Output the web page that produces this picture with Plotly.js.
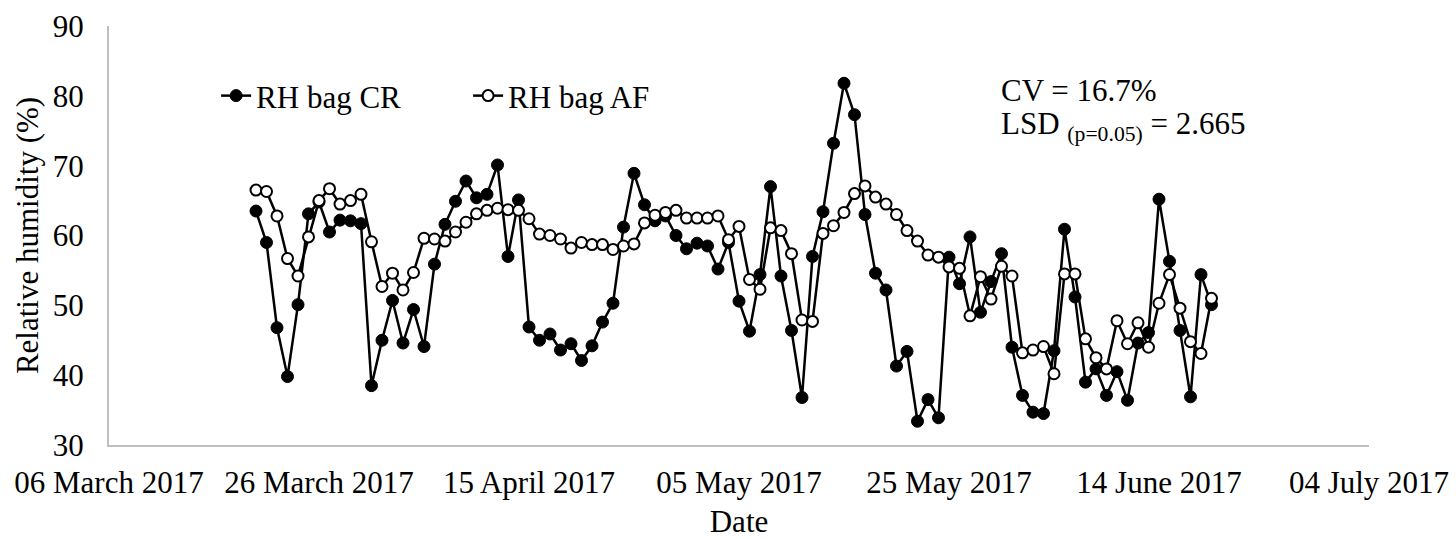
<!DOCTYPE html>
<html>
<head>
<meta charset="utf-8">
<script src="https://cdn.plot.ly/plotly-3.0.1.min.js"></script>
<style>
  html, body { margin: 0; padding: 0; background: #ffffff; }
  #chart { width: 1456px; height: 539px; }
</style>
</head>
<body>
<div id="chart"></div>
<script>
// dias medidos (20 March 2017 a 19 June 2017)
var dates = [
  '2017-03-20','2017-03-21','2017-03-22','2017-03-23','2017-03-24','2017-03-25','2017-03-26','2017-03-27','2017-03-28','2017-03-29',
  '2017-03-30','2017-03-31','2017-04-01','2017-04-02','2017-04-03','2017-04-04','2017-04-05','2017-04-06','2017-04-07','2017-04-08',
  '2017-04-09','2017-04-10','2017-04-11','2017-04-12','2017-04-13','2017-04-14','2017-04-15','2017-04-16','2017-04-17','2017-04-18',
  '2017-04-19','2017-04-20','2017-04-21','2017-04-22','2017-04-23','2017-04-24','2017-04-25','2017-04-26','2017-04-27','2017-04-28',
  '2017-04-29','2017-04-30','2017-05-01','2017-05-02','2017-05-03','2017-05-04','2017-05-05','2017-05-06','2017-05-07','2017-05-08',
  '2017-05-09','2017-05-10','2017-05-11','2017-05-12','2017-05-13','2017-05-14','2017-05-15','2017-05-16','2017-05-17','2017-05-18',
  '2017-05-19','2017-05-20','2017-05-21','2017-05-22','2017-05-23','2017-05-24','2017-05-25','2017-05-26','2017-05-27','2017-05-28',
  '2017-05-29','2017-05-30','2017-05-31','2017-06-01','2017-06-02','2017-06-03','2017-06-04','2017-06-05','2017-06-06','2017-06-07',
  '2017-06-08','2017-06-09','2017-06-10','2017-06-11','2017-06-12','2017-06-13','2017-06-14','2017-06-15','2017-06-16','2017-06-17',
  '2017-06-18','2017-06-19'
];

// RH bag CR (pontos cheios)
var rhCR = [
  63.5, 59.0, 46.8, 39.8, 50.1, 63.1, 64.8, 60.5, 62.2, 62.1,
  61.7, 38.5, 45.0, 50.7, 44.6, 49.4, 44.1, 55.9, 61.6, 64.9,
  67.8, 65.4, 65.9, 70.1, 57.0, 65.1, 46.9, 45.0, 45.9, 43.6,
  44.5, 42.1, 44.2, 47.6, 50.3, 61.2, 68.9, 64.4, 62.1, 62.8,
  60.0, 58.1, 58.9, 58.5, 55.2, 59.0, 50.6, 46.3, 54.4, 67.0,
  54.2, 46.4, 36.8, 57.0, 63.4, 73.2, 81.8, 77.3, 63.0, 54.6,
  52.2, 41.3, 43.4, 33.4, 36.5, 33.9, 56.9, 53.1, 59.8, 49.0,
  53.4, 57.4, 44.0, 37.1, 34.7, 34.5, 43.5, 60.9, 51.2, 39.0,
  40.9, 37.1, 40.5, 36.4, 44.6, 46.1, 65.2, 56.3, 46.4, 36.9,
  54.4, 50.1
];

// RH bag AF (pontos vazios)
var rhAF = [
  66.5, 66.3, 62.8, 56.7, 54.2, 59.8, 65.0, 66.7, 64.5, 65.0,
  65.9, 59.1, 52.7, 54.6, 52.2, 54.7, 59.6, 59.5, 59.2, 60.5,
  61.9, 63.1, 63.6, 63.9, 63.7, 63.6, 62.4, 60.2, 60.0, 59.5,
  58.2, 59.0, 58.7, 58.7, 58.0, 58.5, 58.8, 61.8, 62.9, 63.3,
  63.6, 62.5, 62.5, 62.5, 62.8, 59.4, 61.3, 53.7, 52.3, 61.1,
  60.7, 57.4, 47.9, 47.7, 60.3, 61.4, 63.3, 66.0, 67.1, 65.5,
  64.5, 63.0, 60.7, 59.2, 57.2, 56.9, 55.5, 55.3, 48.5, 54.1,
  50.9, 55.6, 54.2, 43.2, 43.6, 44.1, 40.2, 54.5, 54.5, 45.2,
  42.5, 40.9, 47.8, 44.5, 47.5, 44.0, 50.3, 54.4, 49.6, 44.8,
  43.1, 51.0
];

var xRange = ['2017-03-06', '2017-07-04'];
var yRange = [30, 90];

var serif = 'Times New Roman, Liberation Serif, serif';

var data = [
  {x: dates, y: rhCR, name: 'RH bag CR', type: 'scatter', mode: 'lines+markers',
   line: {color: '#000000', width: 2.5},
   marker: {symbol: 'circle', size: 12, color: '#000000', line: {color: '#000000', width: 1}}},
  {x: dates, y: rhAF, name: 'RH bag AF', type: 'scatter', mode: 'lines+markers',
   line: {color: '#000000', width: 2.5},
   marker: {symbol: 'circle', size: 11, color: '#ffffff', line: {color: '#000000', width: 2}}}
];

var layout = {
  width: 1456, height: 539,
  margin: {l: 109, r: 87, t: 26, b: 94},
  paper_bgcolor: '#ffffff', plot_bgcolor: '#ffffff',
  font: {family: serif, size: 31, color: '#000000'},
  showlegend: true,
  hovermode: false,
  legend: {orientation: 'h', x: 0.085, xanchor: 'left', y: 0.833, yanchor: 'middle',
           font: {family: serif, size: 31}, bgcolor: 'rgba(0,0,0,0)', entrywidth: 207, entrywidthmode: 'pixels'},
  xaxis: {
    type: 'date', range: xRange, tick0: '2017-03-06', dtick: 20 * 86400000,
    tickformat: '%d %B %Y', showgrid: false, zeroline: false,
    showline: true, linecolor: '#bfbfbf', linewidth: 2, ticks: '',
    ticklabelstandoff: 9, automargin: false,
    title: {text: 'Date', font: {family: serif, size: 31}, standoff: 23}
  },
  yaxis: {
    range: yRange, dtick: 10, showgrid: false, zeroline: false,
    showline: true, linecolor: '#bfbfbf', linewidth: 2, ticks: '',
    ticklabelstandoff: 17, automargin: false,
    title: {text: 'Relative humidity (%)', font: {family: serif, size: 31}, standoff: 5}
  },
  annotations: [
    {xref: 'paper', yref: 'paper', x: 0.7065, y: 0.8456, xanchor: 'left', yanchor: 'middle',
     text: 'CV = 16.7%', showarrow: false, font: {family: serif, size: 31}},
    {xref: 'paper', yref: 'paper', x: 0.7065, y: 0.762, xanchor: 'left', yanchor: 'middle',
     text: 'LSD <sub>(p=0.05)</sub> = 2.665', showarrow: false, font: {family: serif, size: 31}}
  ]
};

Plotly.newPlot('chart', data, layout, {displayModeBar: false, staticPlot: true});
</script>
</body>
</html>
